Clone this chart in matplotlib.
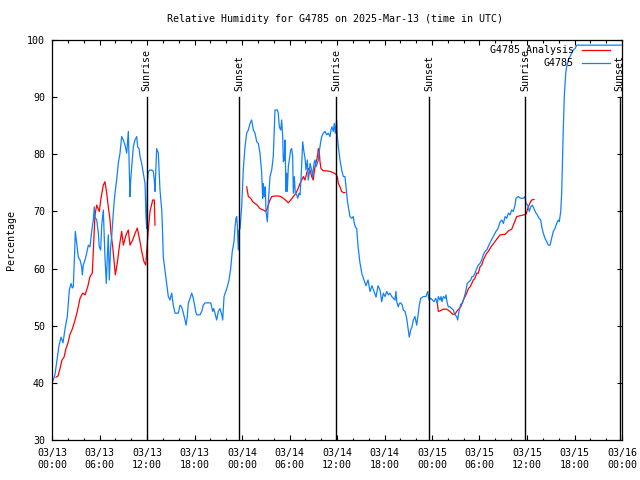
import numpy as np
import matplotlib
matplotlib.use("Agg")
import matplotlib.pyplot as plt
from matplotlib.ticker import MultipleLocator

# ---- data (time in hours since 2025-03-13 00:00 UTC) ----
obs_t = [0.00, 0.16, 0.38, 0.63, 0.88, 1.14, 1.39, 1.64, 1.93, 2.19, 2.40, 2.56, 2.69, 2.87, 2.94,
         3.12, 3.32, 3.54, 3.75, 3.83, 3.95, 4.17, 4.38, 4.59, 4.80, 5.01, 5.22, 5.34, 5.43, 5.65,
         5.85, 5.97, 6.15, 6.28, 6.48, 6.69, 6.78, 6.86, 6.98, 7.11, 7.24, 7.41, 7.54, 7.74, 7.87,
         8.05, 8.17, 8.37, 8.59, 8.80, 9.01, 9.22, 9.44, 9.64, 9.76, 9.85, 9.94, 10.11, 10.27, 10.48,
         10.70, 10.82, 10.99, 11.12, 11.33, 11.53, 11.75, 11.87, 11.96, 12.04, 12.16, 12.38, 12.59,
         12.80, 12.92, 13.01, 13.14, 13.22, 13.43, 13.64, 13.86, 13.93, 14.06, 14.27, 14.49, 14.69,
         14.91, 15.12, 15.32, 15.54, 15.75, 15.95, 16.17, 16.38, 16.59, 16.80, 16.93, 17.09, 17.22,
         17.43, 17.65, 17.85, 17.97, 18.15, 18.28, 18.48, 18.69, 18.91, 19.11, 19.33, 19.74, 20.05,
         20.17, 20.30, 20.42, 20.59, 20.80, 21.01, 21.22, 21.44, 21.56, 21.73, 21.94, 22.14, 22.36,
         22.57, 22.77, 22.99, 23.12, 23.24, 23.33, 23.41, 23.53, 23.62, 23.75, 23.96, 24.16, 24.38,
         24.59, 24.80, 25.01, 25.22, 25.43, 25.64, 25.86, 26.06, 26.27, 26.49, 26.61, 26.69, 26.82,
         26.94, 27.03, 27.20, 27.32, 27.54, 27.75, 27.95, 28.17, 28.46, 28.58, 28.71, 28.89, 29.01,
         29.14, 29.22, 29.34, 29.43, 29.56, 29.64, 29.72, 29.85, 29.97, 30.15, 30.28, 30.40, 30.48,
         30.61, 30.73, 30.91, 31.04, 31.20, 31.33, 31.45, 31.58, 31.67, 31.79, 31.96, 32.08, 32.25,
         32.37, 32.50, 32.59, 32.80, 32.93, 33.09, 33.22, 33.35, 33.51, 33.64, 33.76, 33.94, 34.07,
         34.27, 34.48, 34.70, 34.90, 35.12, 35.24, 35.37, 35.53, 35.66, 35.78, 35.96, 36.04, 36.17,
         36.38, 36.59, 36.80, 37.01, 37.14, 37.30, 37.43, 37.64, 37.86, 38.06, 38.15, 38.31, 38.49,
         38.65, 38.90, 39.16, 39.41, 39.66, 39.92, 40.17, 40.42, 40.67, 40.93, 41.18, 41.43, 41.65,
         41.85, 42.06, 42.28, 42.48, 42.69, 42.91, 43.11, 43.32, 43.45, 43.54, 43.74, 43.87, 44.05,
         44.25, 44.37, 44.59, 44.80, 45.01, 45.13, 45.31, 45.47, 45.64, 45.85, 46.07, 46.27, 46.40,
         46.57, 46.90, 47.24, 47.46, 47.62, 47.84, 48.04, 48.25, 48.47, 48.67, 48.80, 49.01, 49.14,
         49.26, 49.43, 49.64, 49.77, 49.89, 50.06, 50.27, 50.49, 50.69, 50.90, 51.12, 51.24, 51.41,
         51.62, 51.83, 52.04, 52.26, 52.46, 52.67, 52.89, 53.05, 53.22, 53.43, 53.65, 53.85, 54.06,
         54.28, 54.48, 54.69, 54.91, 55.32, 55.70, 56.08, 56.34, 56.61, 56.82, 57.02, 57.23, 57.44,
         57.65, 57.86, 58.07, 58.27, 58.49, 58.61, 58.90, 59.20, 59.53, 59.75, 59.87, 60.09, 60.29,
         60.47, 60.67, 60.88, 61.10, 61.30, 61.52, 61.73, 61.86, 62.06, 62.27, 62.49, 62.69, 62.91,
         63.12, 63.32, 63.53, 63.75, 63.95, 64.08, 64.26, 64.38, 64.46, 64.58, 64.71, 64.89, 65.01,
         65.22, 65.43, 65.65, 65.85, 66.07, 66.28, 71.90]
obs_rh = [40, 40.5, 41.5, 44, 46.5, 48, 47, 49.4, 51.6, 56.25, 57.4, 56.6, 56.8, 63.25, 66.5,
          64.5, 62, 61.5, 60.3, 58.9, 60.6, 61.5, 62.7, 64.1, 63.8, 66.5, 68.5, 70.8, 69, 68.5,
          66.2, 63.8, 63.25, 67.6, 70.25, 62, 59.5, 57.4, 61.8, 65.9, 58, 63.8, 65.6, 69.7, 72,
          74.3, 75.5, 78.4, 80.2, 83.1, 82.5, 81.6, 80.2, 84, 77.25, 72.6, 75.5, 78.4, 81.3, 82.5,
          83.1, 81.3, 81, 79.6, 78.4, 76.7, 74.9, 69.1, 67, 74.9, 77, 77.25, 77.25,
          77, 75.5, 73.5, 78.4, 81, 80.2, 73.75, 70.25, 67.9, 62, 59.75, 57.4, 55.1,
          54.5, 55.7, 53.6, 52.2, 52.2, 52.2, 53.6, 53.3, 52.2, 51, 50.1, 51.6, 53.9,
          54.8, 55.7, 54.8, 53.9, 52.5, 51.9, 51.9, 51.9, 52.5, 53.6, 54, 54, 54,
          53.3, 52.5, 53, 52.2, 51, 52.5, 53, 51.9, 51, 55.1, 56, 56.8, 58,
          60, 63, 64.7, 67.3, 68.8, 69.1, 67.6, 63.25, 66.75, 67, 70.8, 77.25, 81.3,
          83.7, 84.25, 85.4, 86, 84.25, 83.7, 82.2, 81.9, 80.2, 76.7, 72.3, 74.9, 72.6,
          74.3, 70, 68.2, 71.4, 76.1, 77.25, 79.6, 87.75, 87.75, 87.2, 84.8, 84.25, 86,
          83.1, 78.7, 79, 82.5, 73.5, 76.7, 73.5, 77.8, 79, 80.75, 81, 79.6, 73.2,
          76.1, 73.2, 72.9, 72.3, 73.2, 72.9, 75.5, 79.6, 82.2, 80.75, 79.3, 77.25, 79,
          75.5, 76.7, 78.4, 77.25, 76.1, 78.4, 79, 77.8, 78.4, 79, 80.5, 82.2, 83.1,
          83.7, 84, 83.4, 83.7, 83.1, 84.25, 84.8, 84, 85.4, 83.7, 86, 83.1, 81.3,
          79, 77.25, 76.1, 76.1, 74.3, 72, 70.8, 69.1, 68.8, 69.1, 68.2, 67.3, 67,
          64, 61, 59, 58, 57, 58, 56, 57, 56, 55, 57, 56.25, 54.2,
          55.7, 55.1, 56, 55.4, 55.7, 55.1, 54.8, 54.5, 56, 54.2, 53.3, 53.9, 54,
          53.6, 52.75, 52.5, 51.3, 49.25, 48, 49.25, 49.8, 51, 51.6, 50.1, 52.2, 53.6,
          54.8, 55.1, 55.1, 56, 54.5, 54.8, 54.5, 54.2, 54.8, 53.9, 55.1, 54.5, 55.1,
          54.2, 55.1, 54.8, 55.4, 54.2, 53.3, 53.3, 53, 52.75, 51.9, 51.6, 51, 52.5,
          53.75, 53.9, 54.8, 56, 57.4, 57.7, 58, 58.6, 58.6, 59.2, 60, 60.6, 60.9,
          61.5, 62.4, 63, 63.25, 64.5, 65.5, 66.5, 67, 68.2, 68.5, 67.9, 69.1, 68.8,
          69.7, 69.4, 70.25, 70, 71.1, 72.3, 72.6, 72.3, 72.3, 72.6, 71.4, 71.1, 70,
          70.8, 71.1, 70.5, 69.8, 69.4, 68.8, 68.5, 67.3, 66.2, 65.3, 64.7, 64.1, 64.1,
          65.3, 66.5, 67, 67.9, 68.5, 68.2, 70, 73.2, 77.8, 84.25, 90.1, 94.2, 95.3,
          96.5, 97.1, 97.7, 98.25, 98.5, 99.1, 99.1]

nan = float("nan")
ana_t = [0.51, 0.76, 1.01, 1.26, 1.52, 1.77, 2.02, 2.27, 2.56, 2.91, 3.20, 3.54, 3.88, 4.17, 4.51,
         4.80, 5.09, 5.22, 5.43, 5.65, 5.97, 6.19, 6.48, 6.69, 6.91, 7.11, 7.33, 7.45, 7.67, 7.83,
         8.00, 8.25, 8.50, 8.80, 9.01, 9.35, 9.64, 9.85, 10.19, 10.48, 10.77, 11.12, 11.33, 11.62,
         11.84, 11.96, 12.16, 12.38, 12.72, 12.92, 13.01,
         18.0,
         24.59, 24.80, 25.10, 25.35, 25.64, 25.93, 26.27, 26.69, 26.99, 27.20, 27.45, 27.75, 28.17,
         28.58, 28.89, 29.22, 29.56, 29.85, 30.15, 30.48, 30.82, 31.11, 31.33, 31.54, 31.75, 31.96,
         32.17, 32.37, 32.59, 32.80, 33.00, 33.13, 33.26, 33.43, 33.56, 33.64, 33.76, 33.85, 33.98,
         34.27, 34.70, 35.12, 35.53, 35.87, 36.04, 36.17, 36.38, 36.59, 36.80, 37.01,
         42.0,
         48.67, 48.80, 49.01, 49.43, 49.86, 50.27, 50.61, 50.90, 51.12, 51.37, 51.62, 51.96, 52.18,
         52.39, 52.60, 52.81, 53.03, 53.22, 53.43, 53.65, 53.85, 54.06, 54.28, 54.48, 54.69, 54.91,
         55.11, 55.45, 55.83, 56.21, 56.61, 57.23, 57.65, 58.07, 58.36, 58.70, 59.12, 59.53, 59.87,
         60.09, 60.38, 60.59, 60.88]
ana_rh = [41, 41.2, 42.5, 44, 44.5, 46, 47, 48.5, 49.4, 51, 52.5, 54.8, 55.7, 55.4, 56.8,
          58.6, 59.2, 63, 69.4, 71.1, 70, 72.3, 74.6, 75.2, 73.2, 70.8, 68.5, 66.2, 63.8, 61.5,
          58.9, 61, 63.8, 66.5, 64.1, 65.9, 66.75, 64.1, 65, 66.1, 67.1, 64.7, 63, 61.2,
          60.6, 63, 66.75, 70, 72, 72, 67.6,
          nan,
          74.3, 72.6, 72.3, 71.7, 71.4, 71.1, 70.5, 70.25, 70, 70.5, 71.7, 72.6, 72.7,
          72.7, 72.6, 72.3, 71.9, 71.5, 72, 72.6, 73.2, 74.1, 74.9, 75.5, 76.1, 75.5,
          76.7, 77.5, 77.25, 76.1, 75.5, 77, 78.1, 79, 79.9, 81, 80.5, 78.7, 77.5,
          77.1, 77.1, 77, 76.8, 76.5, 76.1, 74.9, 74.3, 73.5, 73.3, 73.3,
          nan,
          54, 52.5, 52.6, 52.9, 52.9, 52.5, 52, 52, 52.5, 52.9, 53.3, 54.5, 55.1,
          55.7, 56.5, 56.8, 57.4, 58, 58.3, 59.2, 59.2, 60.3, 60.6, 61.5, 62.1, 62.7,
          63, 63.8, 64.5, 65.2, 65.9, 66, 66.6, 66.9, 67.9, 69.1, 69.25, 69.4, 69.5,
          70.5, 71.5, 72, 72.1]

sunrise_t = [11.95, 35.92, 59.80]
sunset_t = [23.65, 47.67, 71.73]

xtick_hours = [0, 6, 12, 18, 24, 30, 36, 42, 48, 54, 60, 66, 72]
xtick_labels = ["03/13\n00:00", "03/13\n06:00", "03/13\n12:00", "03/13\n18:00",
                "03/14\n00:00", "03/14\n06:00", "03/14\n12:00", "03/14\n18:00",
                "03/15\n00:00", "03/15\n06:00", "03/15\n12:00", "03/15\n18:00",
                "03/16\n00:00"]

title = "Relative Humidity for G4785 on 2025-Mar-13 (time in UTC)"
ana_label = "G4785 Analysis"
obs_label = "G4785"

# ---- style ----
FONT = "DejaVu Sans Mono"
FS = 7.2
plt.rcParams["font.family"] = FONT
plt.rcParams["font.size"] = FS
RED = "#ff0000"
BLUE = "#1080ff"

fig = plt.figure(figsize=(6.4, 4.8), dpi=100)
ax = fig.add_axes([52/640, 40/480, 570/640, 400/480])

ax.plot(ana_t, ana_rh, color=RED, lw=0.9)
ax.plot(obs_t, obs_rh, color=BLUE, lw=0.9)

ax.set_xlim(0, 72)
ax.set_ylim(30, 100)

for t in sunrise_t:
    ax.plot([t, t], [30, 90], color="black", lw=1.0)
    ax.text(t, 91, "Sunrise", rotation=90, ha="center", va="bottom", fontsize=FS, clip_on=False)
for t in sunset_t:
    ax.plot([t, t], [30, 90], color="black", lw=1.0)
    ax.text(t, 91, "Sunset", rotation=90, ha="center", va="bottom", fontsize=FS, clip_on=False)

ax.set_xticks(xtick_hours)
ax.set_xticklabels(xtick_labels)
ax.xaxis.set_minor_locator(MultipleLocator(2))
ax.set_yticks(np.arange(30, 101, 10))
ax.tick_params(axis="both", which="major", direction="in", length=3.5, width=0.8,
               top=True, right=True, labelsize=FS)
ax.tick_params(axis="both", which="minor", direction="in", length=1.8, width=0.8,
               top=True, right=True)
ax.tick_params(axis="x", which="major", pad=6)
ax.tick_params(axis="y", which="major", pad=5)
for s in ax.spines.values():
    s.set_linewidth(0.9)

fig.text(334.7/640, 1 - 19/480, title, ha="center", va="center", fontsize=FS)
fig.text(11/640, 1 - 240/480, "Percentage", rotation=90, ha="center", va="center", fontsize=FS)

# legend (gnuplot style: right-aligned text, sample line to the right)
for i, (lab, col) in enumerate([(ana_label, RED), (obs_label, BLUE)]):
    yy = 1 - (10 + 13 * i) / 400
    ax.text((574 - 52) / 570, yy, lab, transform=ax.transAxes, ha="right", va="center", fontsize=FS)
    ax.plot([(582 - 52) / 570, (610 - 52) / 570], [yy, yy], transform=ax.transAxes,
            color=col, lw=0.9, clip_on=False)

fig.savefig("out.png", dpi=100)
